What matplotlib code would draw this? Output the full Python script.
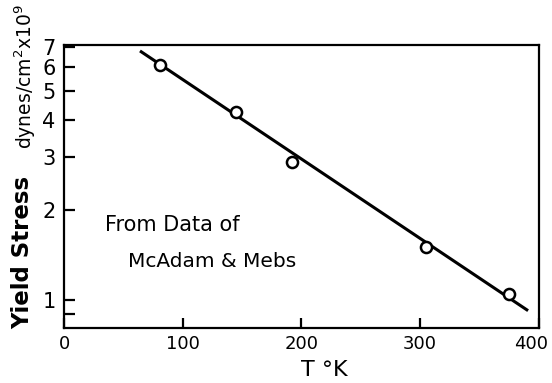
import matplotlib
matplotlib.use('Agg')
import matplotlib.pyplot as plt
import matplotlib.transforms as mtransforms
from matplotlib.ticker import FixedLocator, NullLocator, NullFormatter

# data
temp_k = [81, 145, 192, 305, 375]
yield_stress = [6.08, 4.24, 2.89, 1.50, 1.05]
fit_t = [64, 391]
fit_s = [6.8, 0.92]

xticks = [0, 100, 200, 300, 400]
yticks = [1, 2, 3, 4, 5, 6, 7]

fig = plt.figure(figsize=(5.52, 3.83), dpi=100)
ax = fig.add_axes([0.116, 0.1436, 0.86, 0.739])

ax.plot(fit_t, fit_s, color='black', lw=2.2, solid_capstyle='butt')
ax.plot(temp_k, yield_stress, 'o', ms=8, mfc='white', mec='black', mew=1.8)

ax.set_yscale('log')
ax.set_xlim(0, 400)
ax.set_ylim(0.805, 7.12)

ax.yaxis.set_major_locator(FixedLocator(yticks + [0.9]))
ax.set_yticklabels([str(t) for t in yticks] + [''])
ax.yaxis.set_minor_locator(NullLocator())
ax.yaxis.set_minor_formatter(NullFormatter())
ax.set_xticks(xticks)
ax.set_xticklabels([str(t) for t in xticks])

ax.tick_params(axis='y', direction='in', length=8, width=1.6, labelsize=15, pad=6)
ax.tick_params(axis='x', direction='in', length=7, width=1.6, labelsize=13, pad=5)
for s in ax.spines.values():
    s.set_linewidth(1.6)

# last x label sits a bit left of its tick so it stays in the picture
last = ax.get_xticklabels()[-1]
last.set_transform(last.get_transform() +
                   mtransforms.ScaledTranslation(-8 / 100, 0, fig.dpi_scale_trans))

ax.text(0.087, 0.365, 'From Data of', transform=ax.transAxes, fontsize=15,
        ha='left', va='center')
ax.text(0.135, 0.235, 'McAdam & Mebs', transform=ax.transAxes, fontsize=14.5,
        ha='left', va='center')

fig.text(0.042, 0.34, 'Yield Stress', rotation=90, fontsize=16.5, fontweight='bold',
         ha='center', va='center')
fig.text(0.045, 0.8, 'dynes/cm$^2$x10$^9$', rotation=90, fontsize=13.5,
         ha='center', va='center')
fig.text(0.587, 0.035, 'T °K', fontsize=16, ha='center', va='center')

plt.savefig('out.png', dpi=100)
